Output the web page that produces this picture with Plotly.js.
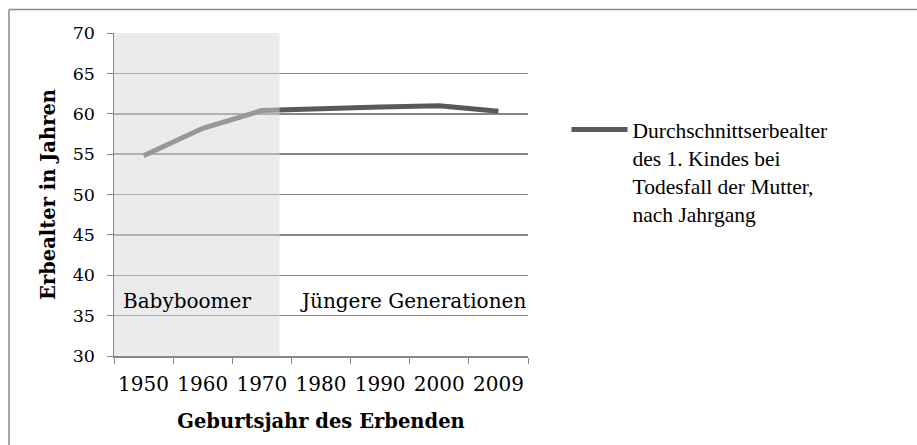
<!DOCTYPE html>
<html>
<head>
<meta charset="utf-8">
<script src="https://cdn.plot.ly/plotly-3.0.1.min.js"></script>
<style>html,body{margin:0;padding:0;background:#fff;}#chart{width:917px;height:445px;}</style>
</head>
<body>
<div id="chart"></div>
<script>
var categories = ["1950", "1960", "1970", "1980", "1990", "2000", "2009"];
var erbealter = [54.8, 58.2, 60.4, 60.7, 60.85, 61.0, 60.3];
var seriesName = "Durchschnittserbealter<br>des 1. Kindes bei<br>Todesfall der Mutter,<br>nach Jahrgang";
var yTicks = [30, 35, 40, 45, 50, 55, 60, 65, 70];
var regionLabels = ["Babyboomer", "Jüngere Generationen"];

var FONT = "DejaVu Serif, Liberation Serif, serif";
var FONT2 = "Liberation Serif, DejaVu Serif, serif";

var trace = {
  x: categories,
  y: erbealter,
  type: "scatter",
  mode: "lines",
  name: seriesName,
  line: {color: "#595959", width: 5},
  showlegend: true
};

var layout = {
  width: 917,
  height: 445,
  margin: {l: 114, r: 389, t: 33, b: 89},
  paper_bgcolor: "#ffffff",
  plot_bgcolor: "#ffffff",
  font: {family: FONT, size: 20, color: "#000000"},
  showlegend: true,
  xaxis: {
    type: "category",
    tickson: "boundaries",
    ticks: "outside",
    ticklen: 6,
    tickcolor: "#888888",
    tickangle: 0,
    showline: true,
    linecolor: "#888888",
    linewidth: 1.5,
    showgrid: false,
    zeroline: false,
    tickfont: {family: FONT, size: 20, color: "#000"},
    ticklabelstandoff: 9,
    title: {text: "<b>Geburtsjahr des Erbenden</b>", font: {family: FONT, size: 19.5, color: "#000"}, standoff: 20}
  },
  yaxis: {
    range: [30, 70],
    tickvals: yTicks,
    ticks: "outside",
    ticklen: 6,
    tickcolor: "#888888",
    showline: true,
    linecolor: "#888888",
    linewidth: 1.5,
    showgrid: true,
    gridcolor: "#888888",
    gridwidth: 1.5,
    zeroline: false,
    tickfont: {family: FONT, size: 17.5, color: "#000"},
    ticklabelstandoff: 8,
    title: {text: "<b>Erbealter in Jahren</b>", font: {family: FONT, size: 19.5, color: "#000"}, standoff: 12}
  },
  legend: {
    x: 1.093,
    xanchor: "left",
    y: 0.765,
    yanchor: "top",
    valign: "top",
    itemwidth: 56,
    font: {family: FONT2, size: 21.5, color: "#000"},
    bgcolor: "rgba(0,0,0,0)"
  },
  shapes: [
    {type: "rect", xref: "x", yref: "y", x0: -0.5, x1: 2.3, y0: 30, y1: 70,
     fillcolor: "rgba(215,215,215,0.5)", line: {width: 0}, layer: "above"},
    {type: "line", xref: "paper", yref: "paper",
     x0: -105/414, x1: 1.95, y0: 1 + 23.5/323, y1: 1 + 23.5/323,
     line: {color: "#8a8a8a", width: 1.5}},
    {type: "line", xref: "paper", yref: "paper",
     x0: -105/414, x1: -105/414, y0: 1 + 23.5/323, y1: -0.5,
     line: {color: "#8a8a8a", width: 1.5}}
  ],
  annotations: [
    {text: regionLabels[0], xref: "x", yref: "y", x: -0.5, y: 36.8, xanchor: "left", yanchor: "middle",
     xshift: 7, showarrow: false, font: {family: FONT, size: 20, color: "#000"}},
    {text: regionLabels[1], xref: "x", yref: "y", x: 6.5, y: 36.8, xanchor: "right", yanchor: "middle",
     xshift: 0, showarrow: false, font: {family: FONT, size: 20, color: "#000"}}
  ]
};

Plotly.newPlot("chart", [trace], layout, {displayModeBar: false, staticPlot: true});
</script>
</body>
</html>
